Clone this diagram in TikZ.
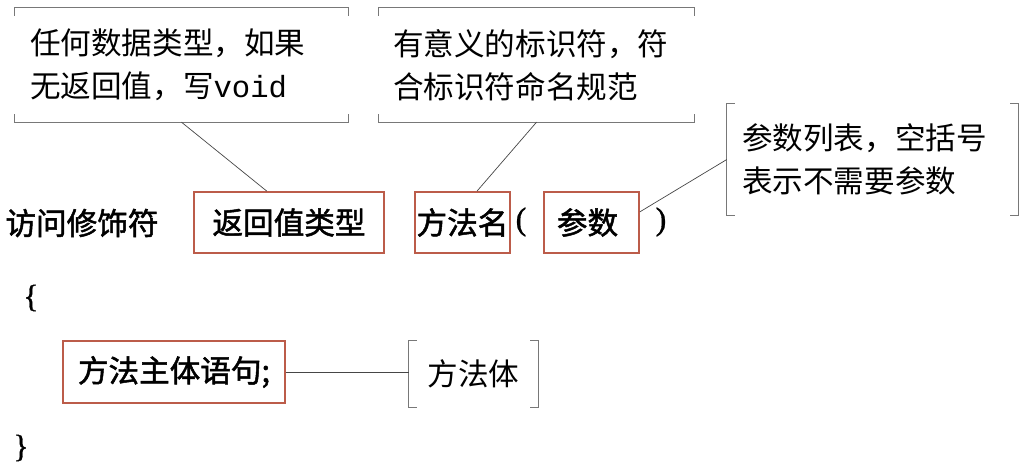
\documentclass[tikz,border=0pt]{standalone}
\usepackage{fontspec}
\newfontfamily\cjk{Noto Sans CJK SC}
\newfontfamily\cjkm[FakeBold=1.6]{Noto Sans CJK SC}
\newfontfamily\monofnt{Liberation Mono}
\newfontfamily\serifb[FakeBold=1]{Liberation Serif}
\usetikzlibrary{calc}
\definecolor{boxred}{RGB}{188,92,74}
\definecolor{brgray}{RGB}{120,120,120}
\definecolor{lngray}{RGB}{70,70,70}
\begin{document}
\begin{tikzpicture}[x=1pt,y=-1pt,
  every node/.style={font=\cjk\fontsize{30.6}{43}\selectfont},
  note/.style={inner sep=0pt, align=left},
  mainbox/.style={draw=boxred, line width=1.8pt, inner sep=0pt, font=\cjkm\fontsize{30.6}{38}\selectfont},
  plain/.style={inner sep=0pt, font=\cjkm\fontsize{30.6}{38}\selectfont},
  punct/.style={inner sep=0pt, font=\serifb\fontsize{32}{38}\selectfont},
  brk/.style={draw=brgray, line width=1.2pt},
  conn/.style={draw=lngray, line width=0.7pt}]
\useasboundingbox (0,0) rectangle (1030,468);
% callouts (sized nodes, brackets drawn from anchors)
\node[note, minimum width=333pt, minimum height=114pt, text width=303pt] (c1) at (181.5,65) {任何数据类型，如果\\无返回值，写{\monofnt void}};
\node[note, minimum width=315pt, minimum height=114pt, text width=287pt] (c2) at (536.5,65) {有意义的标识符，符\\合标识符命名规范};
\node[note, minimum width=291pt, minimum height=112pt, text width=261pt] (c3) at (872.5,159.5) {参数列表，空括号\\表示不需要参数};
\node[note, minimum width=129pt, minimum height=66pt, align=center] (fb) at (473.5,374) {方法体};
% horizontal brackets
\foreach \c in {c1,c2}{
  \draw[brk] ($(\c.north west)+(0,8)$) -- (\c.north west) -- (\c.north east) -- ++(0,8);
  \draw[brk] ($(\c.south west)+(0,-8)$) -- (\c.south west) -- (\c.south east) -- ++(0,-8);
}
% vertical brackets
\foreach \c in {c3,fb}{
  \draw[brk] ($(\c.north west)+(8,0)$) -- (\c.north west) -- (\c.south west) -- ++(8,0);
  \draw[brk] ($(\c.north east)+(-8,0)$) -- (\c.north east) -- (\c.south east) -- ++(-8,0);
}
% main line
\node[plain] (am) at (82,223) {访问修饰符};
\node[mainbox, minimum width=190pt, minimum height=61pt] (rt) at (289,222.5) {返回值类型};
\node[mainbox, minimum width=95pt, minimum height=61pt] (mn) at (462.5,222.5) {方法名};
\node[punct] (lp) at (521,222) {(};
\node[mainbox, minimum width=95pt, minimum height=61pt] (pa) at (591.5,222.5) {\hspace*{-8pt}参数};
\node[punct] (rp) at (661,222) {)};
\node[punct] (lb) at (31,298) {\{};
\node[mainbox, minimum width=222pt, minimum height=62pt] (body) at (174,372) {方法主体语句;};
\node[punct] (rb) at (21,448) {\}};
% connectors
\draw[conn] (c1.south) -- ($(rt.north west)!0.384!(rt.north east)$);
\draw[conn] (c2.south) -- ($(mn.north west)!0.65!(mn.north east)$);
\draw[conn] ($(pa.north east)!0.33!(pa.south east)$) -- (c3.west);
\draw[conn] (body.east) -- (body.east -| fb.west);
\end{tikzpicture}
\end{document}
